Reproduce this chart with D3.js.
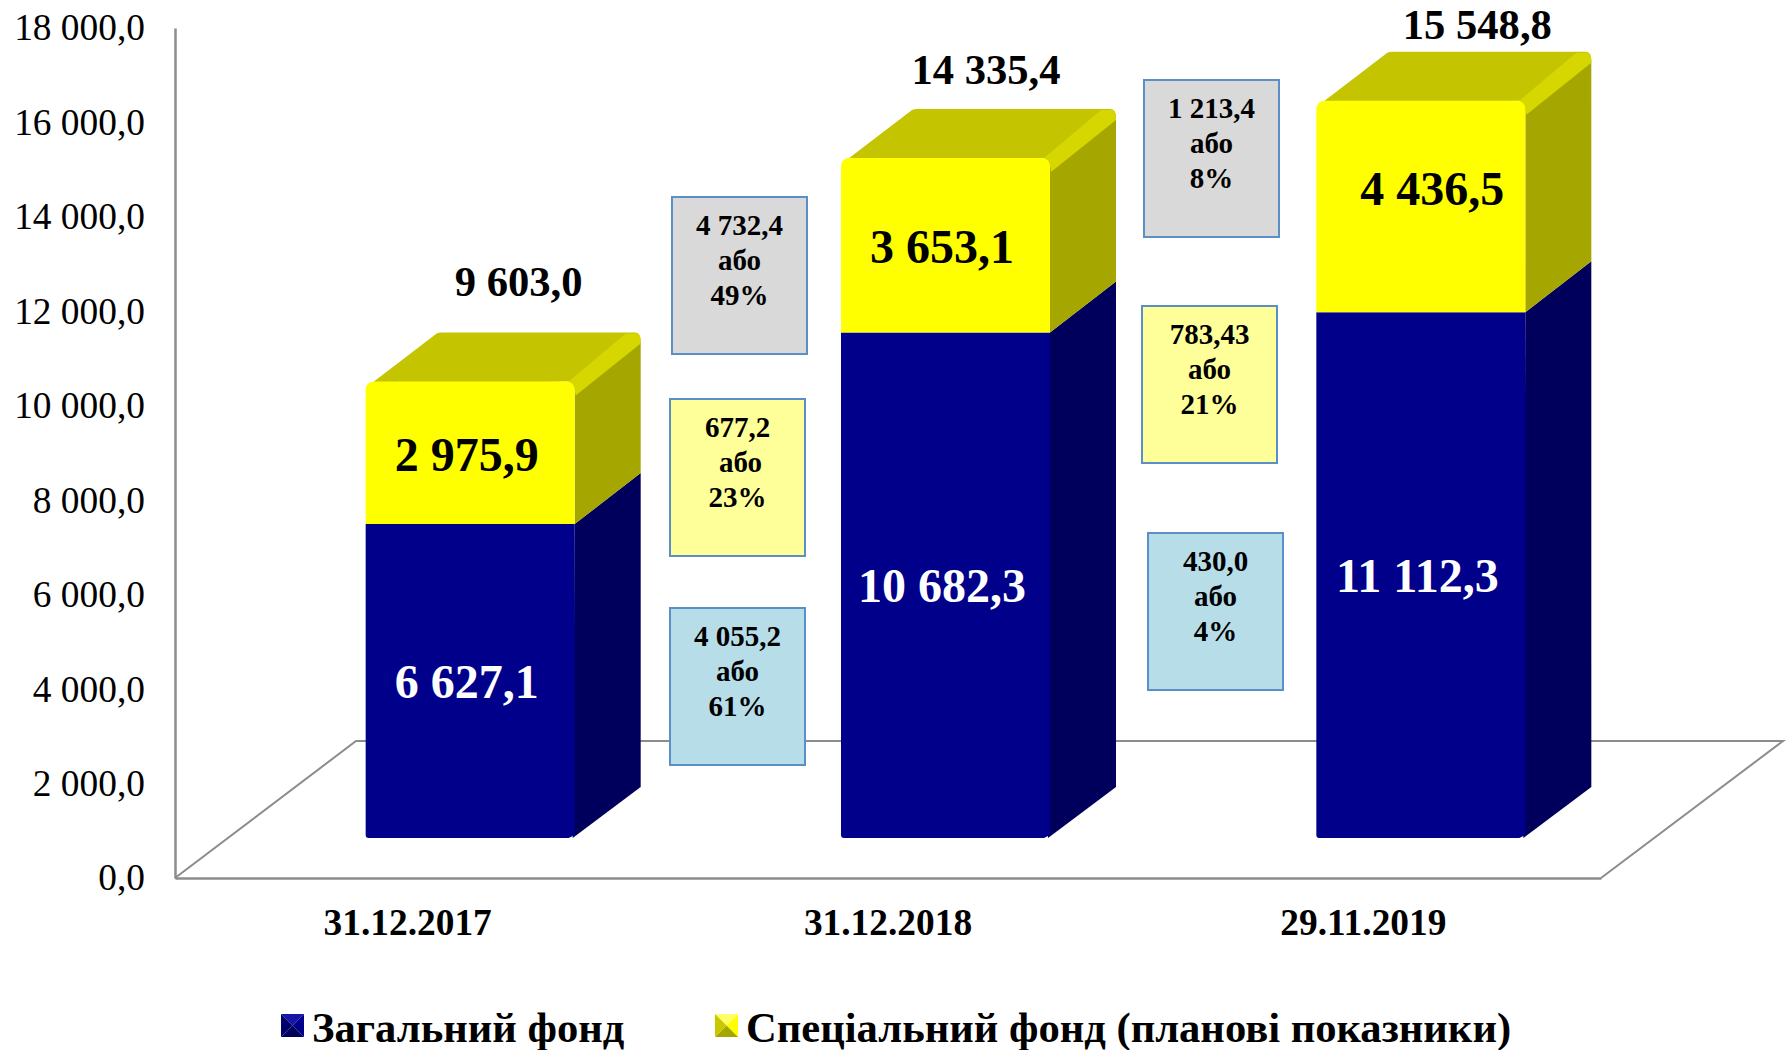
<!DOCTYPE html>
<html><head><meta charset="utf-8">
<script src="https://cdnjs.cloudflare.com/ajax/libs/d3/7.8.5/d3.min.js"></script>
<style>html,body{margin:0;background:#fff}svg{display:block}text{font-family:"Liberation Serif",serif}</style>
</head><body><svg id="c" width="1791" height="1050"></svg>
<script>
const categories=["31.12.2017","31.12.2018","29.11.2019"];
const generalFund=[6627.1,10682.3,11112.3];
const specialFund=[2975.9,3653.1,4436.5];
const totals=[9603.0,14335.4,15548.8];
const generalLabels=["6 627,1","10 682,3","11 112,3"];
const specialLabels=["2 975,9","3 653,1","4 436,5"];
const totalLabels=["9 603,0","14 335,4","15 548,8"];
const yTicks=[0,2000,4000,6000,8000,10000,12000,14000,16000,18000];
const legendLabels=["Загальний фонд","Спеціальний фонд (планові показники)"];
const changeText=[
 ["4 732,4","або","49%"],["677,2","або","23%"],["4 055,2","або","61%"],
 ["1 213,4","або","8%"],["783,43","або","21%"],["430,0","або","4%"]];
// layout
const boxFills=["#d9d9d9","#ffff99","#b7dde8","#d9d9d9","#ffff99","#b7dde8"];
const boxXY=[[672,197],[670,399],[670,608],[1144,80],[1142,306],[1148,533]];
const boxW=135,boxH=157;

const svg=d3.select("#c");
const y=d3.scaleLinear().domain([0,18000]).range([878,28]);
const x=d3.scaleBand().domain(categories).range([175,1601]);
const liftX=57.5,liftY=41,barW=209,depthX=66,depthY=51,topDepth=49,r=9;

// floor
svg.append("path")
 .attr("d",`M175,878L${175+181},${878-137}H${1601+182}L1601,878`)
 .attr("fill","none").attr("stroke","#8c8c8c").attr("stroke-width",2);

// axes
const ya=svg.append("g").attr("transform","translate(175,0)")
 .call(d3.axisLeft(y).tickValues(yTicks).tickSize(0).tickPadding(30)
 .tickFormat(d=>{const s=d3.format(".1f")(d).replace(".",",");const p=s.split(",");
   return p[0].replace(/\B(?=(\d{3})+$)/g," ")+","+p[1];}));
ya.selectAll("text").attr("font-size",37.4).attr("fill","#000").style("font-family","'Liberation Serif',serif");
ya.select(".domain").attr("stroke","#8c8c8c").attr("stroke-width",2.5);

const xa=svg.append("g").attr("transform","translate(0,878)")
 .call(d3.axisBottom(x).tickSize(0).tickPadding(30));
xa.selectAll("text").attr("font-size",37.4).attr("font-weight","bold").attr("fill","#000")
  .attr("dx",(d,i)=>i==0?-5:0).style("font-family","'Liberation Serif',serif");
xa.select(".domain").attr("stroke","#8c8c8c").attr("stroke-width",2.5);

// bars
const left=c=>x(c)+x.bandwidth()/2+liftX-barW/2;
const Y=v=>y(v)-liftY;
const g=svg.append("g");
categories.forEach((c,i)=>{
 const L=left(c),R=L+barW,base=Y(0)+1,mid=Y(generalFund[i]),top=Y(generalFund[i]+specialFund[i])-2;
 const tb=top-topDepth;
 // blue side + front
 g.append("path").attr("fill","#00005c").attr("d",`M${R-2},${base}L${R+depthX},${base-depthY}V${mid-depthY}L${R},${mid}Z`);
 g.append("path").attr("fill","#00008b").attr("d",`M${L},${base-3}Q${L},${base} ${L+3},${base}H${R-6}L${R},${base-3}V${mid}H${L}Z`);
 // yellow top
 g.append("path").attr("fill","#c4c400").attr("d",`M${L+3},${top+4}L${L+depthX+5},${tb+1}Q${L+depthX+7},${tb} ${L+depthX+10},${tb}H${R+depthX-6}Q${R+depthX},${tb} ${R+depthX},${tb+8}L${R},${top+8}L${R-6},${top}Z`);
 // yellow side
 g.append("path").attr("fill","#a6a600").attr("d",`M${R},${mid}L${R+depthX},${mid-depthY}V${tb+8}L${R},${top+8}Z`);
 // bevel strip
 g.append("path").attr("fill","#d6d600").attr("d",`M${R-6},${top}L${R+depthX-15},${tb+1}H${R+depthX-6}Q${R+depthX},${tb} ${R+depthX},${tb+9}V${tb+11}L${R+1},${top+14}Q${R},${top+2} ${R-6},${top}Z`);
 // yellow front
 g.append("path").attr("fill","#ffff00").attr("d",`M${L},${mid}V${top+r}Q${L},${top} ${L+r},${top}H${R-r}Q${R},${top} ${R},${top+r}V${mid}Z`);

 const cx=L+barW/2-3.5;
 const txt=(s,xx,yy,size,fill)=>g.append("text").attr("x",xx).attr("y",yy).attr("dy","0.35em").attr("text-anchor","middle")
   .attr("font-weight","bold").attr("font-size",size).attr("fill",fill).text(s);
 txt(generalLabels[i],cx,(base+mid)/2,48,"#fff");
 txt(specialLabels[i],cx+(i==2?15:0),i==2?188:(mid+top)/2+1,48,"#000");
 txt(totalLabels[i],cx+[52,44,60][i],[281,69,24][i],42.6,"#000");
});

// callouts
changeText.forEach((t,i)=>{
 const [bx,by]=boxXY[i];
 svg.append("rect").attr("x",bx).attr("y",by).attr("width",boxW).attr("height",boxH)
  .attr("fill",boxFills[i]).attr("stroke","#5b8fc8").attr("stroke-width",2);
 t.forEach((s,k)=>svg.append("text").attr("x",bx+boxW/2+(i==1&&k==1?3:0)).attr("y",by+28+k*34.8).attr("dy","0.35em")
  .attr("text-anchor","middle").attr("font-weight","bold").attr("font-size",29).attr("fill","#000").text(s));
});

// legend
const legendX=[281,715],legendColors=[["#00008b","#1515a8","#00006a","#00005c"],["#ffff00","#ffff66","#c8c800","#a6a600"]];
legendLabels.forEach((s,i)=>{
 const mx=legendX[i],my=1014,m=23,l=legendColors[i];
 const c=[mx+m/2,my+m/2];
 [[[mx,my],[mx+m,my],l[1]],[[mx+m,my],[mx+m,my+m],l[0]],[[mx+m,my+m],[mx,my+m],l[3]],[[mx,my+m],[mx,my],l[2]]].forEach(q=>{
  svg.append("path").attr("d",`M${q[0]}L${q[1]}L${c}Z`).attr("fill",q[2]);
 });
 svg.append("text").attr("x",mx+31).attr("y",1042).attr("font-weight","bold").attr("font-size",42.6).attr("fill","#000").text(s);
});
</script></body></html>
